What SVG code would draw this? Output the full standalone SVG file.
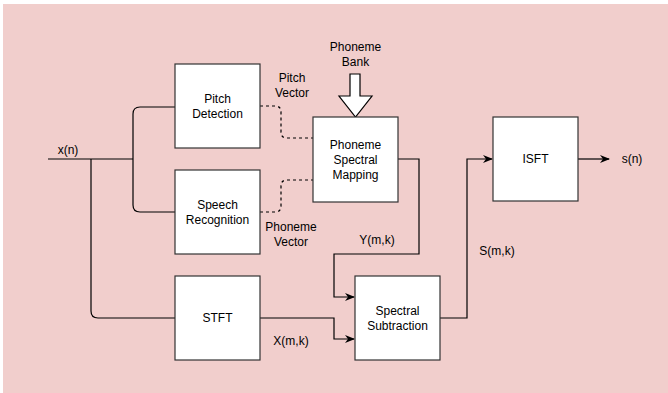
<svg xmlns="http://www.w3.org/2000/svg" width="668" height="393" viewBox="0 0 668 393">
<defs>
<style>
.box{fill:#fff;stroke:#333;stroke-width:1.2}
.ln{fill:none;stroke:#000;stroke-width:1.2}
.dash{fill:none;stroke:#000;stroke-width:1.2;stroke-dasharray:3 3}
text{font-family:"Liberation Sans",Arial,sans-serif;font-size:12px;fill:#000;text-anchor:middle}
</style>
<marker id="arr" viewBox="0 0 10 10" refX="9" refY="5" markerWidth="10" markerHeight="10" markerUnits="userSpaceOnUse" orient="auto">
<path d="M0,1 L10,5 L0,9 L3,5 Z" fill="#000"/>
</marker>
</defs>
<rect x="0" y="0" width="668" height="393" fill="#fff"/>
<rect x="3" y="4" width="665" height="389" fill="#f1cecc"/>

<g id="connectors">
<path class="ln" d="M48,159 H133"/>
<path class="ln" d="M133,159 V114 Q133,107 140,107 H175"/>
<path class="ln" d="M133,159 V205 Q133,212 140,212 H175"/>
<path class="ln" d="M91,159 V311 Q91,318 98,318 H175"/>
<path class="dash" d="M260,106 H275 Q281,106 281,112 V132 Q281,138 287,138 H313"/>
<path class="dash" d="M260,212 H275 Q281,212 281,206 V186 Q281,180 287,180 H313"/>
<path class="ln" d="M398,159 H419 V254 H334 V297 H354" marker-end="url(#arr)"/>
<path class="ln" d="M260,318 H334 V339 H354" marker-end="url(#arr)"/>
<path class="ln" d="M440,318 H467 V159 H492" marker-end="url(#arr)"/>
<path class="ln" d="M578,159 H609" marker-end="url(#arr)"/>
<path d="M350,74 H360 V96 H372 L355.5,117 L339,96 H350 Z" fill="#fff" stroke="#000" stroke-width="1.2"/>
</g>

<g id="pitch-detection">
<rect class="box" x="175" y="64" width="85" height="84"/>
<text x="217.5" y="103">Pitch</text>
<text x="217.5" y="118">Detection</text>
</g>
<g id="speech-recognition">
<rect class="box" x="175" y="170" width="85" height="84"/>
<text x="217.5" y="209">Speech</text>
<text x="217.5" y="224">Recognition</text>
</g>
<g id="stft">
<rect class="box" x="175" y="276" width="85" height="84"/>
<text x="217.5" y="322">STFT</text>
</g>
<g id="phoneme-spectral-mapping">
<rect class="box" x="313" y="117" width="85" height="85"/>
<text x="355.5" y="149">Phoneme</text>
<text x="355.5" y="164">Spectral</text>
<text x="355.5" y="179">Mapping</text>
</g>
<g id="spectral-subtraction">
<rect class="box" x="355" y="276" width="85" height="84"/>
<text x="397.5" y="315">Spectral</text>
<text x="397.5" y="330">Subtraction</text>
</g>
<g id="isft">
<rect class="box" x="493" y="117" width="85" height="84"/>
<text x="535.5" y="163">ISFT</text>
</g>

<g id="labels">
<text x="68" y="154">x(n)</text>
<text x="355.5" y="51">Phoneme</text>
<text x="355.5" y="66">Bank</text>
<text x="292" y="82">Pitch</text>
<text x="292" y="97">Vector</text>
<text x="291" y="231">Phoneme</text>
<text x="291" y="246">Vector</text>
<text x="377" y="244">Y(m,k)</text>
<text x="291" y="345">X(m,k)</text>
<text x="497" y="255">S(m,k)</text>
<text x="632" y="163">s(n)</text>
</g>
</svg>
